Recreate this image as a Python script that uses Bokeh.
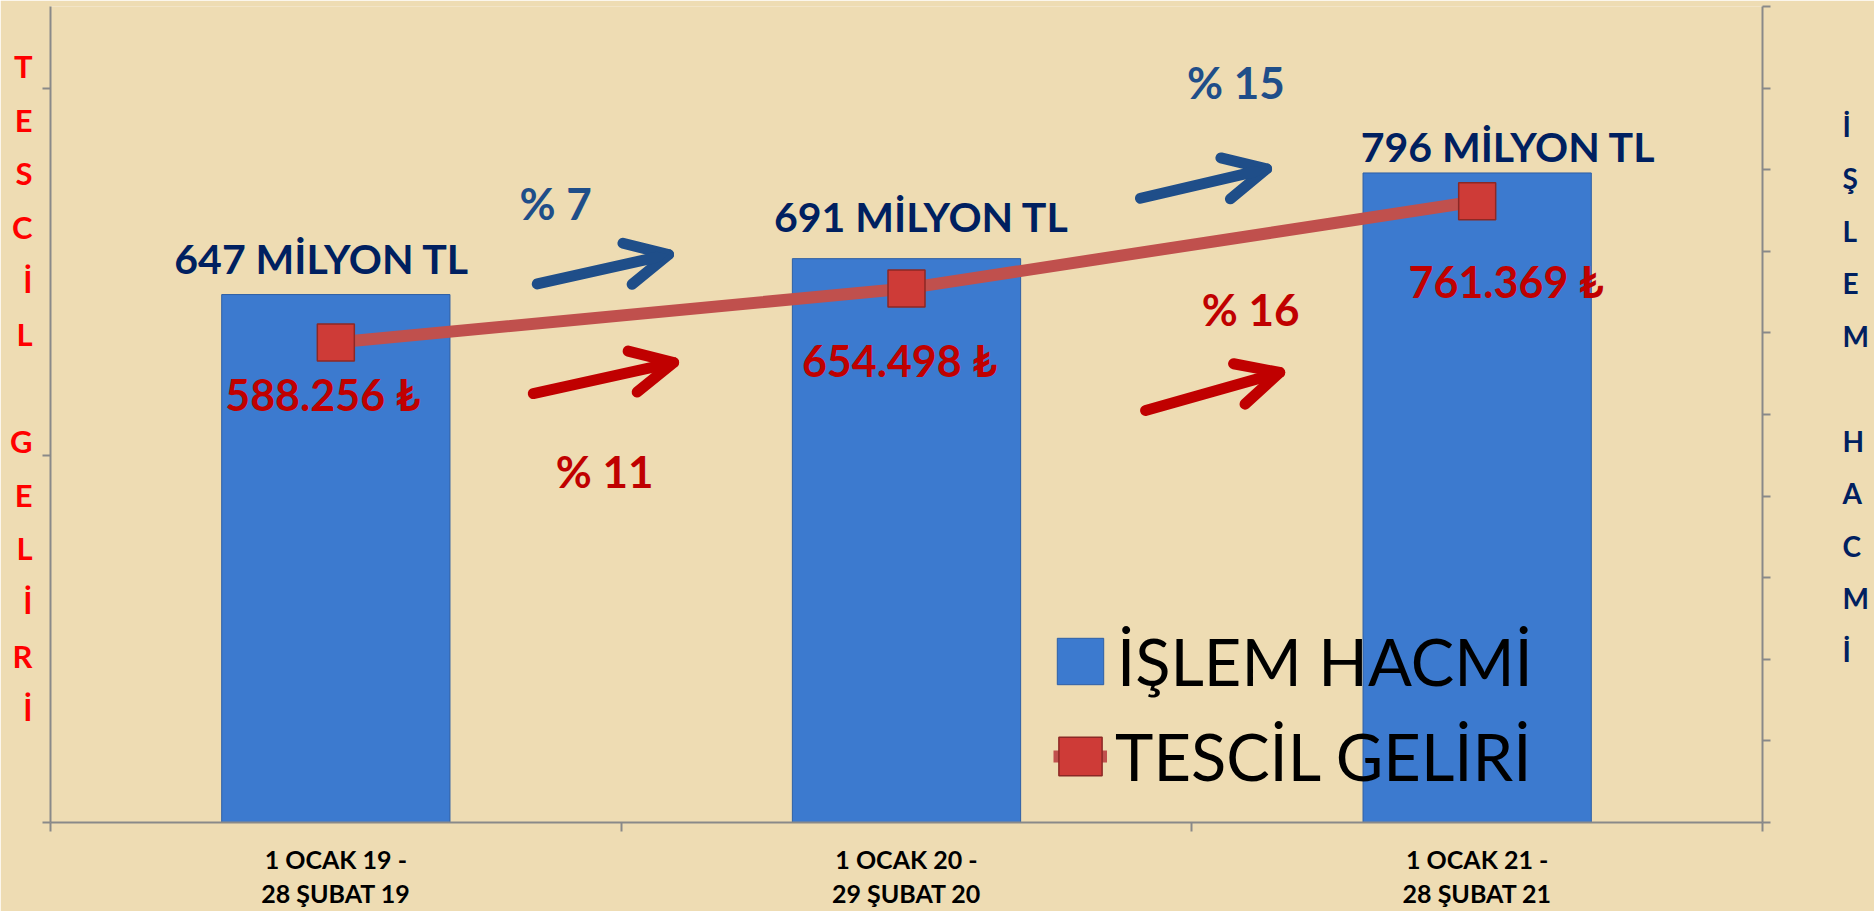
from bokeh.plotting import figure
from bokeh.models import (Range1d, LinearAxis, FixedTicker, CustomJSTickFormatter,
                          Legend, LegendItem, Arrow, OpenHead, ColumnDataSource)
from bokeh.embed import file_html
from bokeh.resources import INLINE
from bokeh.core.properties import value

# ---------------- data ----------------
CATEGORIES = ["1 OCAK 19 -\n28 ŞUBAT 19", "1 OCAK 20 -\n29 ŞUBAT 20", "1 OCAK 21 -\n28 ŞUBAT 21"]
ISLEM_HACMI = [647, 691, 796]                 # milyon TL (right axis, bars)
TESCIL_GELIRI = [588256, 654498, 761369]      # TL (left axis, line)
SERIES_NAMES = ["İŞLEM HACMİ", "TESCİL GELİRİ"]
LEFT_TITLE = "TESCİL GELİRİ"
RIGHT_TITLE = "İŞLEM HACMİ"
LEFT_TICKS = [0, 450000, 900000]
RIGHT_TICKS = [0, 100, 200, 300, 400, 500, 600, 700, 800, 900, 1000]

# ---------------- layout / style (not data) ----------------
BAR_LABEL_DX = [-14, 15, 31]
BAR_LABEL_DY = [-36, -42, -26]
VAL_LABEL_DX = [-13, -7, 29]
VAL_LABEL_DY = [52, 72, 80]
# annotation placement (x in category units, y in each axis' units)
BLUE_ARROWS = dict(x0=[0.853, 1.910], y0=[660, 765], x1=[1.083, 2.131], y1=[696, 801])
RED_ARROWS = dict(x0=[0.846, 1.919], y0=[525700, 504900], x1=[1.092, 2.154], y1=[563700, 551500])
BLUE_PCT_POS = dict(x=[0.885, 2.077], y=[759, 908])
RED_PCT_POS = dict(x=[0.971, 2.103], y=[430200, 629900])

BG = "#EEDCB3"
GRAY = "#898989"
BAR_FILL = "#3C7ACF"
BAR_EDGE = "#2E5FA5"
LINE_C = "#C0504D"
MARK_FILL = "#CE3B37"
MARK_EDGE = "#8C2825"
NAVY = "#002060"
BLUE = "#1F4E89"
RED = "#C00000"
FONT = value("Lato")

xs = [i + 0.5 for i in range(len(CATEGORIES))]
bar_labels = [f"{v} MİLYON TL" for v in ISLEM_HACMI]
val_labels = [f"{v:,}".replace(",", ".") + " ₺" for v in TESCIL_GELIRI]


def pct(a, b):
    return f"% {round((b / a - 1) * 100)}"


blue_pct = [pct(ISLEM_HACMI[i], ISLEM_HACMI[i + 1]) for i in range(len(ISLEM_HACMI) - 1)]
red_pct = [pct(TESCIL_GELIRI[i], TESCIL_GELIRI[i + 1]) for i in range(len(TESCIL_GELIRI) - 1)]


def stacked(title):
    return "\n".join(ch if ch != " " else "" for ch in title) + "\n\u00a0"


src = ColumnDataSource(dict(x=xs, hacim=ISLEM_HACMI, tescil=TESCIL_GELIRI,
                            bar_label=bar_labels, bdx=BAR_LABEL_DX, bdy=BAR_LABEL_DY,
                            val_label=val_labels, vdx=VAL_LABEL_DX, vdy=VAL_LABEL_DY))

p = figure(width=1874, height=911, x_range=Range1d(0, 3), y_range=Range1d(0, 1_000_000),
           x_axis_type=None, y_axis_type=None, output_backend="svg", toolbar_location=None,
           min_border_left=50, min_border_right=112, min_border_top=6, min_border_bottom=89)
p.extra_y_ranges = {"hacim": Range1d(0, 1000)}
p.background_fill_color = BG
p.border_fill_color = BG
p.outline_line_color = None

# ---- axes ----
empty = CustomJSTickFormatter(code="return ''")
left = LinearAxis(ticker=FixedTicker(ticks=LEFT_TICKS), formatter=empty,
                  axis_line_color=GRAY, axis_line_width=2,
                  major_tick_line_color=GRAY, major_tick_line_width=2,
                  major_tick_in=0, major_tick_out=8, minor_tick_line_color=None,
                  major_label_standoff=0,
                  axis_label=stacked(LEFT_TITLE), axis_label_orientation="horizontal",
                  axis_label_standoff=10, axis_label_text_font="Lato",
                  axis_label_text_font_style="bold", axis_label_text_font_size="31px",
                  axis_label_text_color="#FF0000", axis_label_text_line_height=1.41)
p.add_layout(left, "left")

right = LinearAxis(y_range_name="hacim", ticker=FixedTicker(ticks=RIGHT_TICKS), formatter=empty,
                   axis_line_color=GRAY, axis_line_width=2,
                   major_tick_line_color=GRAY, major_tick_line_width=2,
                   major_tick_in=0, major_tick_out=8, minor_tick_line_color=None,
                   major_label_standoff=0,
                   axis_label=stacked(RIGHT_TITLE), axis_label_orientation="horizontal",
                   axis_label_standoff=72, axis_label_text_font="Lato",
                   axis_label_text_font_style="bold", axis_label_text_font_size="28px",
                   axis_label_text_color=NAVY, axis_label_text_line_height=1.545)
p.add_layout(right, "right")

bottom = LinearAxis(ticker=FixedTicker(ticks=xs, minor_ticks=[0, 1, 2, 3]),
                    formatter=CustomJSTickFormatter(args=dict(labels=CATEGORIES),
                                                    code="return labels[Math.floor(tick)]"),
                    axis_line_color=GRAY, axis_line_width=2,
                    major_tick_in=0, major_tick_out=0,
                    minor_tick_line_color=GRAY, minor_tick_line_width=2,
                    minor_tick_in=0, minor_tick_out=9,
                    major_label_standoff=12, major_label_text_font="Lato",
                    major_label_text_font_style="bold", major_label_text_font_size="25px",
                    major_label_text_color="black", major_label_text_line_height=1.15)
p.add_layout(bottom, "below")

# ---- bars ----
bars = p.vbar(x="x", top="hacim", bottom=0, width=0.4, source=src, y_range_name="hacim",
              fill_color=BAR_FILL, line_color=BAR_EDGE, line_width=1)

# ---- line + markers ----
line_r = p.line("x", "tescil", source=src, line_color=LINE_C, line_width=12)
mark_r = p.scatter("x", "tescil", source=src, marker="square", size=37,
                   fill_color=MARK_FILL, line_color=MARK_EDGE, line_width=1.5)
# legend swatch for the marker (not drawn in the plot)
swatch = p.rect("x", "tescil", width=0.01, height=1, source=src, visible=False,
                fill_color=MARK_FILL, line_color=MARK_EDGE, line_width=1.5)

# ---- data labels ----
p.text("x", "hacim", text="bar_label", x_offset="bdx", y_offset="bdy", source=src,
       y_range_name="hacim", text_align="center", text_baseline="alphabetic",
       text_font=FONT, text_font_style="bold", text_font_size="41px", text_color=NAVY)
p.text("x", "tescil", text="val_label", x_offset="vdx", y_offset="vdy", source=src,
       text_align="center", text_baseline="alphabetic",
       text_font=FONT, text_font_style="bold", text_font_size="43px", text_color=RED)

# ---- growth annotations ----
bp = ColumnDataSource(dict(x=BLUE_PCT_POS["x"], y=BLUE_PCT_POS["y"], t=blue_pct))
rp = ColumnDataSource(dict(x=RED_PCT_POS["x"], y=RED_PCT_POS["y"], t=red_pct))
p.text("x", "y", text="t", source=bp, y_range_name="hacim", text_align="center",
       text_baseline="alphabetic", text_font=FONT, text_font_style="bold",
       text_font_size="44px", text_color=BLUE)
p.text("x", "y", text="t", source=rp, text_align="center",
       text_baseline="alphabetic", text_font=FONT, text_font_style="bold",
       text_font_size="44px", text_color=RED)

ba = ColumnDataSource(BLUE_ARROWS)
ra = ColumnDataSource(RED_ARROWS)
p.add_layout(Arrow(x_start="x0", y_start="y0", x_end="x1", y_end="y1", source=ba,
                   y_range_name="hacim", line_color=BLUE, line_width=11, line_cap="round",
                   end=OpenHead(size=42, line_color=BLUE, line_width=11,
                                line_cap="round", line_join="round")))
p.add_layout(Arrow(x_start="x0", y_start="y0", x_end="x1", y_end="y1", source=ra,
                   line_color=RED, line_width=11, line_cap="round",
                   end=OpenHead(size=42, line_color=RED, line_width=11,
                                line_cap="round", line_join="round")))

# ---- legends ----
leg_common = dict(padding=0, margin=0, spacing=0, border_line_color=None,
                  background_fill_alpha=0, label_text_font="Lato",
                  label_text_font_size="65px", label_text_color="black")
leg_a = Legend(items=[LegendItem(label=SERIES_NAMES[0], renderers=[bars])],
               location=(1001, 122), glyph_width=58, glyph_height=58, label_standoff=8,
               **leg_common)
leg_b = Legend(items=[LegendItem(label=SERIES_NAMES[1], renderers=[line_r, swatch])],
               location=(1003, 27), glyph_width=54, glyph_height=48, label_standoff=8,
               **leg_common)
p.add_layout(leg_a)
p.add_layout(leg_b)

html = file_html(p, INLINE)
html = html.replace("<body>", f'<body style="background-color:{BG};">', 1)
open("out.html", "w").write(html)
